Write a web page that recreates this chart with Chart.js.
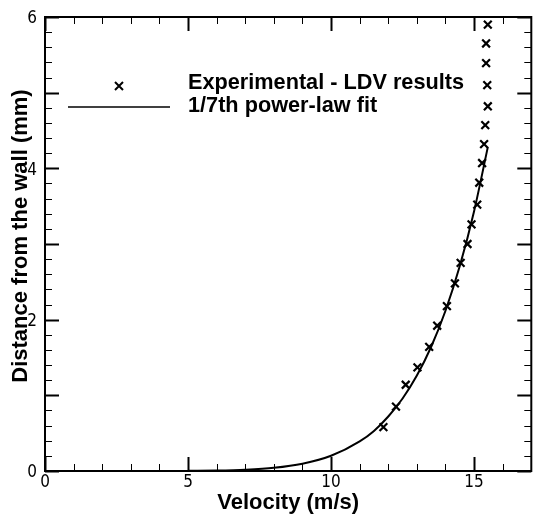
<!DOCTYPE html>
<html lang="en">
<head>
  <meta charset="UTF-8">
  <title>Velocity profile</title>
  <script src="https://cdn.jsdelivr.net/npm/chart.js"></script>
  <style>
    html, body { margin: 0; padding: 0; background: #fff; }
    #wrap { width: 539px; height: 514px; }
  </style>
</head>
<body>
  <div id="wrap"><canvas id="profileChart" width="539" height="514"></canvas></div>

  <script>
    // LDV measurements (velocity m/s, distance mm)
    const ldvVelocity = [11.83, 12.27, 12.61, 13.02, 13.43, 13.71, 14.05, 14.33, 14.53, 14.77, 14.91,
                         15.11, 15.18, 15.28, 15.35, 15.39, 15.48, 15.46, 15.42, 15.42, 15.48];
    const ldvDistance = [0.58, 0.85, 1.14, 1.37, 1.64, 1.92, 2.18, 2.48, 2.75, 3.00, 3.26,
                         3.52, 3.81, 4.07, 4.32, 4.57, 4.82, 5.10, 5.39, 5.65, 5.90];

    // 1/7th power-law curve
    const fitVelocity = [5.0, 6.0, 7.0, 8.0, 9.0, 10.0, 11.0, 11.5, 12.0, 12.5, 13.0, 13.5, 14.0, 14.5, 15.0, 15.48];
    const fitDistance = [0.002, 0.006, 0.017, 0.042, 0.096, 0.201, 0.392, 0.53, 0.72, 0.958, 1.261, 1.642, 2.118, 2.708, 3.434, 4.28];

    const xLabels = [0, 5, 10, 15];
    const yLabels = [0, 2, 4, 6];

    const seriesNames = ['Experimental - LDV results', '1/7th power-law fit'];

    // ticks, titles, legend and frame drawn on top of the chart area
    const framePlugin = {
      id: 'frame',
      afterDraw(chart) {
        const c = chart.ctx;
        const a = chart.chartArea;
        const xs = chart.scales.x, ys = chart.scales.y;
        c.save();
        c.strokeStyle = '#000';
        c.fillStyle = '#000';

        // frame
        c.lineWidth = 2;
        c.strokeRect(a.left, a.top, a.right - a.left, a.bottom - a.top);

        // x ticks (every 1, long every 5), bottom and top
        for (let v = 0; v <= 17; v++) {
          const px = Math.round(xs.getPixelForValue(v)) + 0.5;
          const len = v % 5 === 0 ? 14 : 7;
          c.lineWidth = v % 5 === 0 ? 2 : 1;
          c.beginPath();
          c.moveTo(px, a.bottom); c.lineTo(px, a.bottom - len);
          c.moveTo(px, a.top); c.lineTo(px, a.top + len);
          c.stroke();
        }
        // y ticks (every 0.2, long every 1), left and right
        for (let i = 0; i <= 30; i++) {
          const py = Math.round(ys.getPixelForValue(i * 0.2)) + 0.5;
          const major = i % 5 === 0;
          const len = major ? 14 : 7;
          c.lineWidth = major ? 2 : 1;
          c.beginPath();
          c.moveTo(a.left, py); c.lineTo(a.left + len, py);
          c.moveTo(a.right, py); c.lineTo(a.right - len, py);
          c.stroke();
        }

        // tick labels
        c.font = '17px "Liberation Sans Narrow", "DejaVu Sans Condensed", "Liberation Sans", sans-serif';
        c.textBaseline = 'middle';
        c.textAlign = 'center';
        xLabels.forEach(v => c.fillText(String(v), xs.getPixelForValue(v), a.bottom + 12));
        c.textAlign = 'right';
        yLabels.forEach(v => c.fillText(String(v), 37, ys.getPixelForValue(v) + 2));

        // axis titles
        c.font = 'bold 22px "Liberation Sans", Arial, sans-serif';
        c.textAlign = 'center';
        c.fillText('Velocity (m/s)', (a.left + a.right) / 2, 503);
        c.save();
        c.translate(21, 236);
        c.rotate(-Math.PI / 2);
        c.fillText('Distance from the wall (mm)', 0, 0);
        c.restore();

        // legend
        c.lineWidth = 2;
        c.beginPath();
        c.moveTo(115, 82); c.lineTo(123, 90);
        c.moveTo(123, 82); c.lineTo(115, 90);
        c.stroke();
        c.lineWidth = 1.5;
        c.beginPath();
        c.moveTo(68, 107); c.lineTo(170, 107);
        c.stroke();
        c.font = 'bold 21.7px "Liberation Sans", Arial, sans-serif';
        c.textAlign = 'left';
        c.fillText(seriesNames[0], 188, 83);
        c.fillText(seriesNames[1], 188, 106);

        c.restore();
      }
    };

    const ctx = document.getElementById('profileChart').getContext('2d');
    const chart = new Chart(ctx, {
      type: 'scatter',
      data: {
        datasets: [{
          label: seriesNames[0],
          data: ldvVelocity.map((v, i) => ({ x: v, y: ldvDistance[i] })),
          pointStyle: 'crossRot',
          pointRadius: 5.5,
          borderColor: '#000',
          borderWidth: 2.2,
          showLine: false
        }, {
          label: seriesNames[1],
          data: fitVelocity.map((v, i) => ({ x: v, y: fitDistance[i] })),
          showLine: true,
          pointRadius: 0,
          borderColor: '#000',
          borderWidth: 2,
          cubicInterpolationMode: 'monotone'
        }]
      },
      options: {
        animation: false,
        responsive: false,
        devicePixelRatio: 1,
        layout: { padding: { left: 45, top: 17, right: 1, bottom: 43 } },
        plugins: { legend: { display: false }, tooltip: { enabled: false } },
        scales: {
          x: { type: 'linear', min: 0, max: 17, display: false },
          y: { type: 'linear', min: 0, max: 6, display: false }
        }
      },
      plugins: [framePlugin]
    });
  </script>
</body>
</html>
